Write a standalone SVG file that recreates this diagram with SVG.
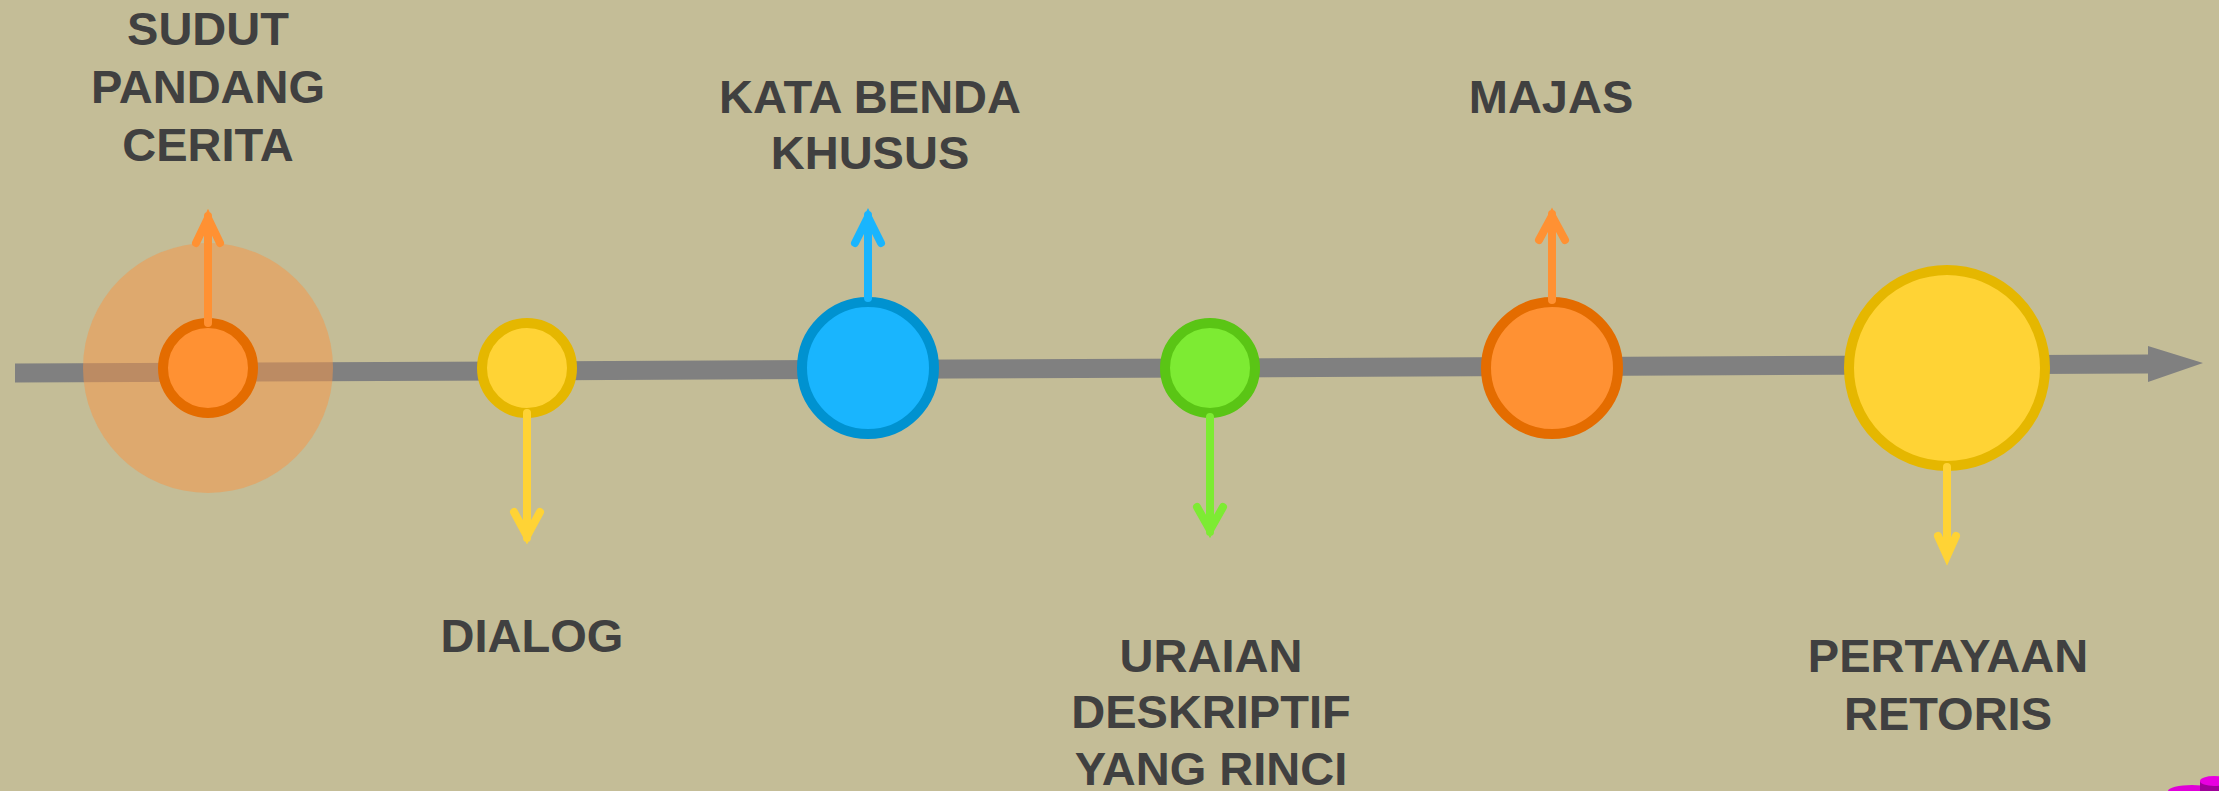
<svg xmlns="http://www.w3.org/2000/svg" width="2219" height="791" viewBox="0 0 2219 791">
<style>
.lbl{font-family:"Liberation Sans",Arial,sans-serif;font-weight:bold;font-size:47px;fill:#404040;text-anchor:middle}
.ring{stroke-width:10}
.arr{fill:none;stroke-width:8;stroke-linecap:round;stroke-linejoin:miter;stroke-miterlimit:10}
</style>
<rect width="2219" height="791" fill="#C4BD97"/>
<g id="timeline">
<polygon points="15,363.5 2148,354.5 2148,346 2203,363 2148,382 2148,373.5 15,382.5" fill="#808080"/>
</g>
<g id="node-sudut">
<circle cx="208" cy="368" r="125" fill="#F79646" opacity="0.5"/>
<circle class="ring" cx="208" cy="368" r="45" fill="#FF9133" stroke="#E46C00"/>
<text class="lbl" x="208" y="45">SUDUT</text>
<text class="lbl" x="208" y="103">PANDANG</text>
<text class="lbl" x="208" y="161">CERITA</text>
</g>
<g id="node-dialog">
<circle class="ring" cx="527" cy="368" r="45" fill="#FFD335" stroke="#E5B700"/>
<text class="lbl" x="532" y="652">DIALOG</text>
</g>
<g id="node-kata">
<circle class="ring" cx="868" cy="368" r="66" fill="#19B5FE" stroke="#0092D0"/>
<text class="lbl" x="870" y="113">KATA BENDA</text>
<text class="lbl" x="870" y="169">KHUSUS</text>
</g>
<g id="node-uraian">
<circle class="ring" cx="1210" cy="368" r="45" fill="#7DEB33" stroke="#5AC515"/>
<text class="lbl" x="1211" y="672">URAIAN</text>
<text class="lbl" x="1211" y="728">DESKRIPTIF</text>
<text class="lbl" x="1211" y="785">YANG RINCI</text>
</g>
<g id="node-majas">
<circle class="ring" cx="1552" cy="368" r="66" fill="#FF9133" stroke="#E46C00"/>
<text class="lbl" x="1551" y="113">MAJAS</text>
</g>
<g id="node-pertayaan">
<circle class="ring" cx="1947" cy="368" r="98" fill="#FFD335" stroke="#E5B700"/>
<text class="lbl" x="1948" y="672">PERTAYAAN</text>
<text class="lbl" x="1948" y="730">RETORIS</text>
</g>
<g id="connectors">
<path class="arr" stroke="#FF9133" d="M208,323 V216 M196,243 L208,218 L220,243"/>
<path class="arr" stroke="#FFD335" d="M527,413 V538 M514,512 L527,536 L540,512"/>
<path class="arr" stroke="#19B5FE" d="M868,298 V215 M855,243 L868,217 L881,243"/>
<path class="arr" stroke="#7DEB33" d="M1210,417 V532 M1197,507 L1210,530 L1223,507"/>
<path class="arr" stroke="#FF9133" d="M1552,300 V214 M1539,240 L1552,216 L1565,240"/>
<path class="arr" stroke="#FFD335" stroke-width="6" d="M1947,467 V556 M1938,536 L1947,556 L1956,536"/>
</g>
<g id="corner-mark">
<ellipse cx="2192" cy="791" rx="24" ry="6" fill="#E000D8"/>
<rect x="2200" y="781" width="25" height="12" fill="#A0009A"/>
<ellipse cx="2214" cy="781" rx="14" ry="5" fill="#E800E0"/>
</g>
</svg>
